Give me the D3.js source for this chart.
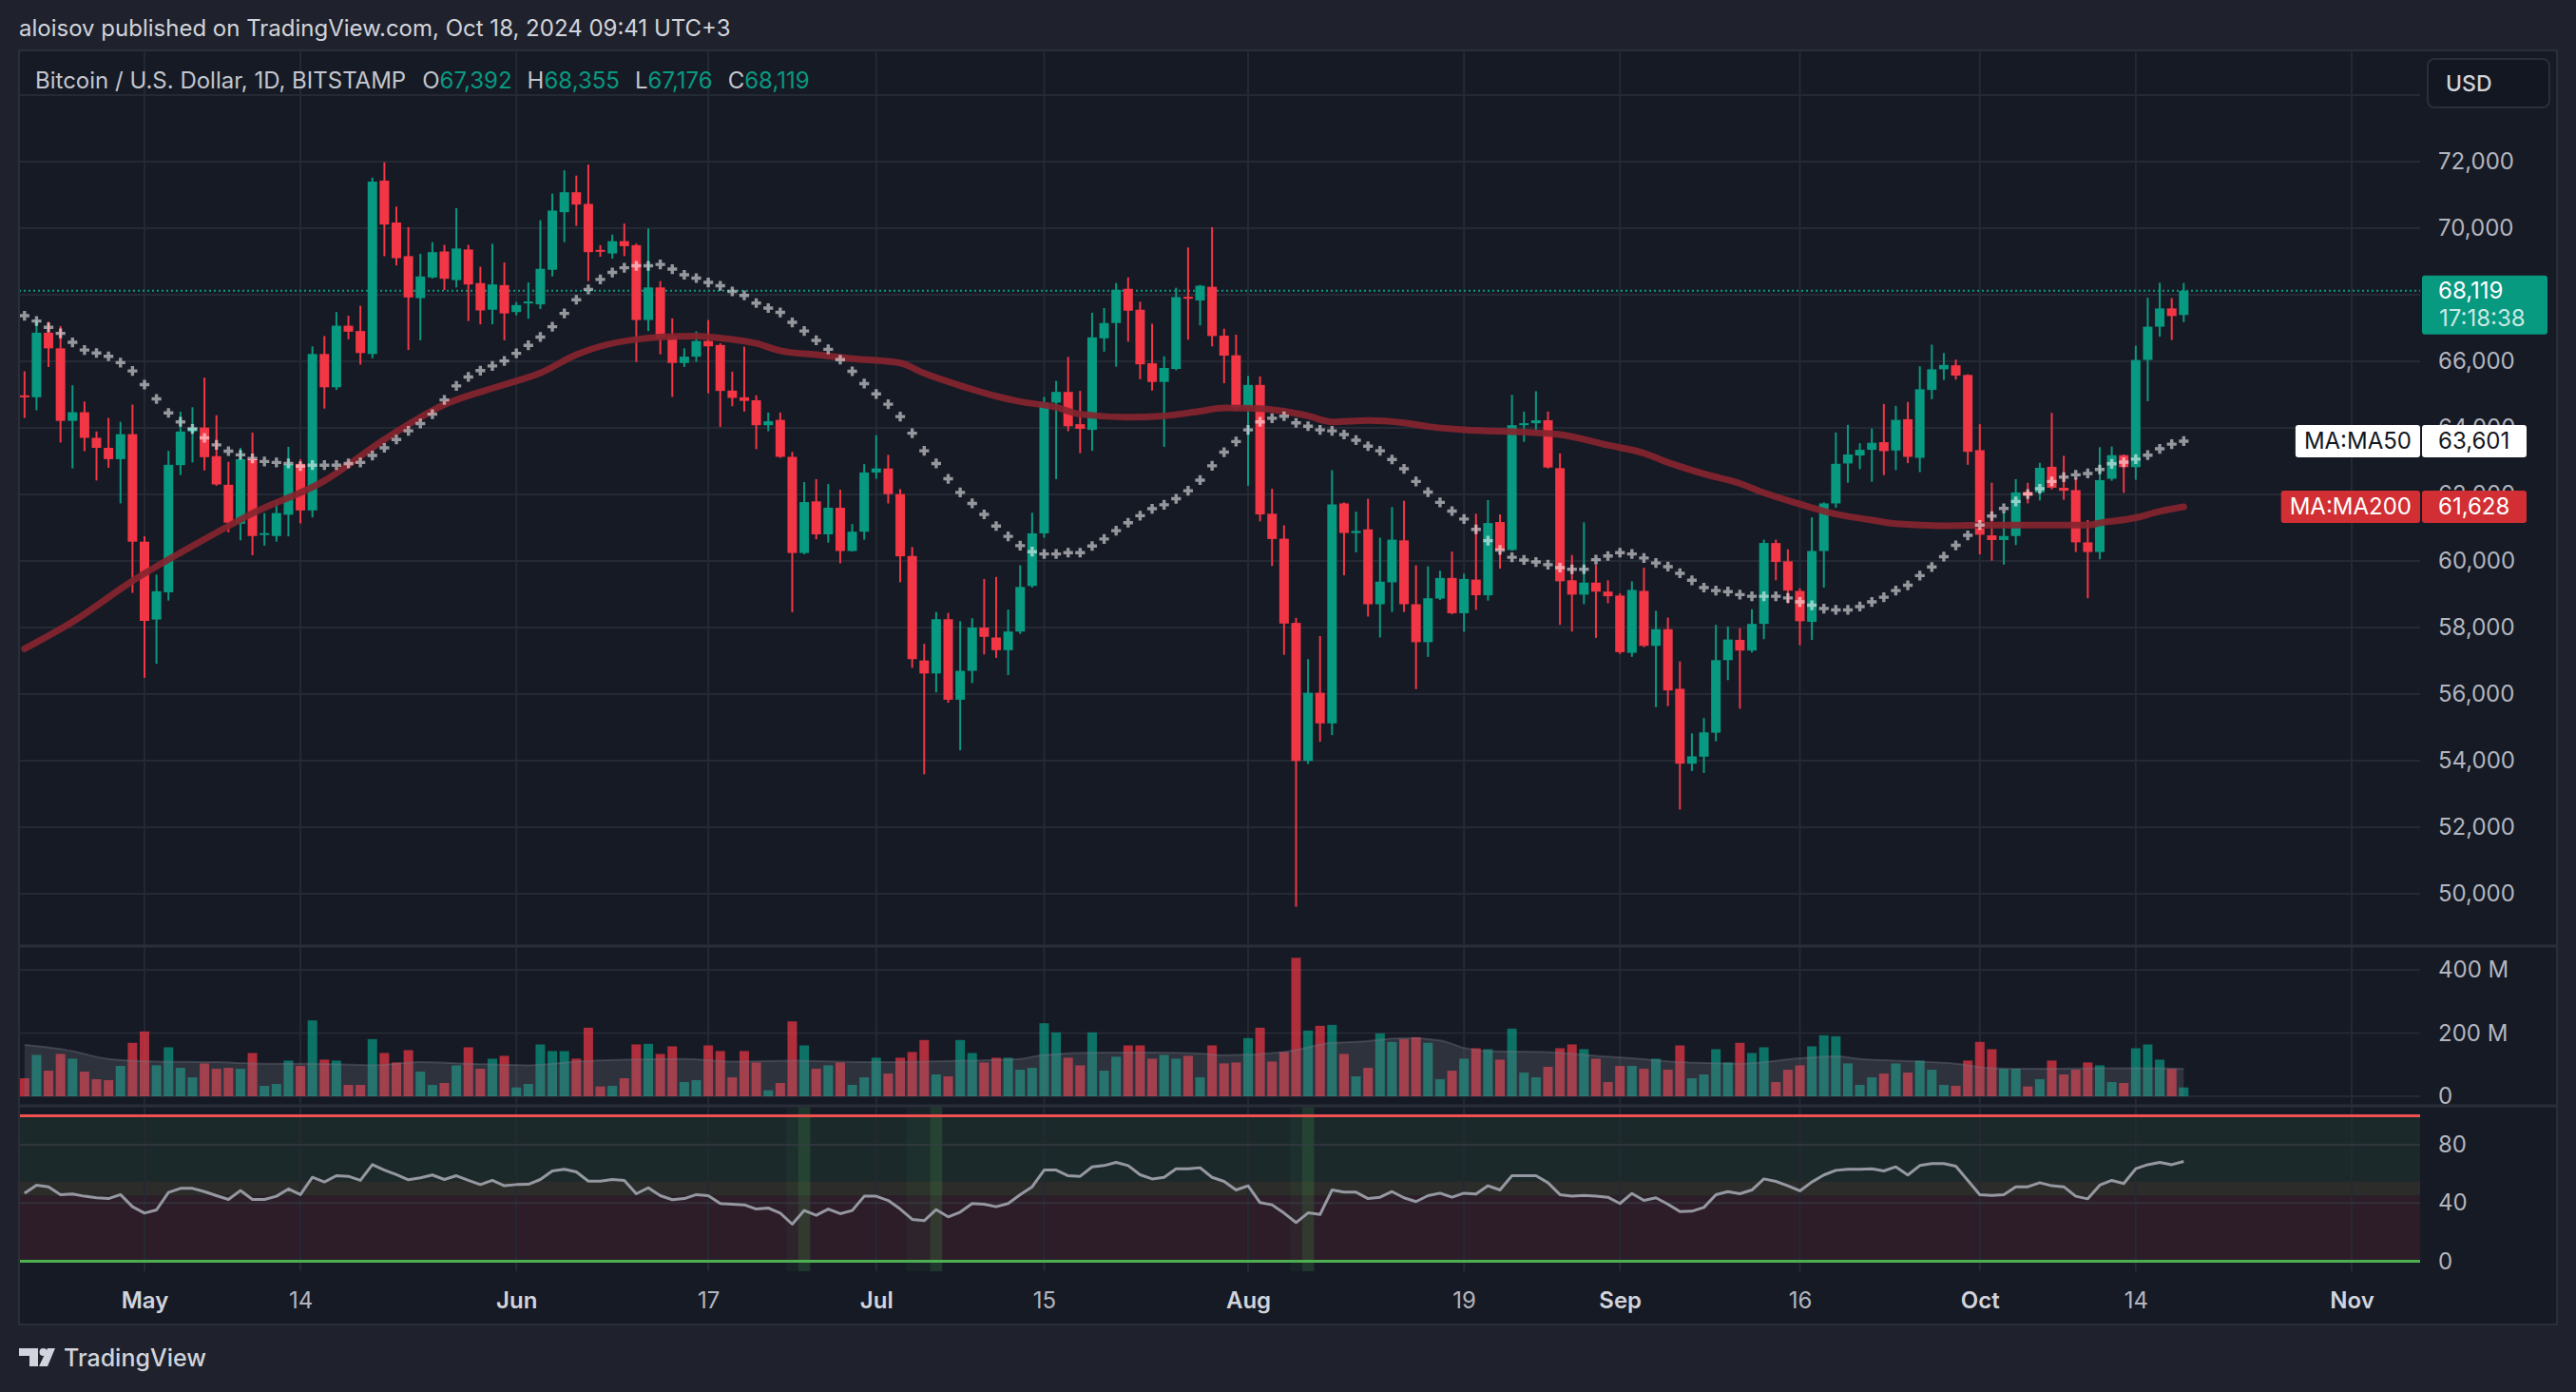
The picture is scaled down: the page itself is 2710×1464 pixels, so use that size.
<!DOCTYPE html>
<html>
<head>
<meta charset="utf-8">
<script src="https://cdn.jsdelivr.net/npm/d3@7"></script>
<style>
  body { margin: 0; background: #1f222c; }
  svg { display: block; font-family: Inter, Roboto, "Noto Sans", sans-serif; }
</style>
</head>
<body>
<svg id="chart" width="2710" height="1464"></svg>
<script>
// ---- data (daily candles, Apr 21 .. Oct 18 2024) ----
const firstDay = "2024-04-21";
const lastDay = "2024-10-18";

const openPx = [
  64950, 64920, 66860, 66390, 64210, 64470, 63700, 63400, 63060, 63810, // Apr
  60580, 58240, 59060, 62880, 63890, 64010, 63150, 62290, 61120, 63060, 60780, 60750, 61390, 62920, 61520, 66220,
  65220, 67070, 66910, 66220, 71430, 70170, 69160, 67900, 68520, 69300, 68440, 69360, 68350, 67550, 68290, // May
  67480, 67740, 67710, 68750, 70480, 71080, 70730, 69310, 69240, 69610, 69490, 67240, 68220, 66760, 65950,
  66140, 66610, 66490, 65120, 64920, 64830, 64080, 64240, 63130, 60240, 61790, 60800, 61600, 60300, 60880, // Jun
  62660, 62780, 62010, 60150, 57010, 56620, 58250, 55830, 56700, 58000, 57700, 57320, 57880, 59250, 60830, 64760,
  65080, 64110, 63940, 66690, 67150, 68180, 67550, 65940, 65380, 65770, 67930, 67830, 68240, 66770, 66180, // Jul
  64620, 65290, 61420, 60670, 58140, 53990, 56040, 55120, 61730, 60840, 60950, 58700, 59360, 60620, 58700, 57560,
  58870, 59490, 58430, 59440, 58970, 61170, 60330, 64080, 64140, 64230, 62790, 59420, 58990, 59350, 59080, // Aug
  58960, 57240, 59100, 57450, 57950, 56160, 53910, 54120, 54840, 57020, 57630, 57310, 58110, 60540, 59990,
  59100, 58170, 60300, 61730, 62930, 63170, 63340, 63570, 63320, 64260, 63100, 65140, 65760, 65880, 65590, // Sep
  63330, 60770, 60630, 60750, 62080, 62060, 62830, 62200, 62130, 60560, 60270, 62470, 63180, 62820, 66040,
  67040, 67590, 67392 // Oct
];
const highPx = [
  65700, 67230, 67190, 67060, 65280, 64790, 63890, 64300, 64180, 64700,
  60740, 59590, 63310, 64490, 64620, 65510, 64380, 62980, 63400, 63860, 61440, 61830, 63430, 63060, 66450, 66760,
  67480, 67370, 67670, 71520, 71980, 70650, 70030, 69230, 69580, 69500, 70600, 69500, 68840, 69530, 68970,
  67780, 68370, 70240, 71040, 71740, 71580, 71910, 69490, 69810, 70140, 69540, 69990, 68410, 67290, 66390,
  66900, 67240, 66540, 65690, 66440, 64980, 64460, 64460, 63280, 62370, 62460, 62310, 62140, 61110, 62910,
  63780, 63190, 62160, 60420, 57510, 58470, 58440, 58190, 58280, 59460, 59520, 58540, 59870, 61450, 64930, 65410,
  66130, 65110, 67460, 67600, 68350, 68520, 67790, 67130, 66150, 68210, 69420, 68300, 70030, 66980, 66800,
  65560, 65550, 62170, 61070, 58290, 57050, 57740, 62730, 61760, 61480, 61870, 60700, 61620, 61810, 59870, 59840,
  59710, 60280, 59620, 61420, 61830, 61400, 64990, 64490, 65100, 64490, 63230, 60180, 61160, 59880, 59420,
  59030, 59390, 59800, 58500, 58300, 56980, 54820, 55280, 58080, 58030, 57980, 58550, 60640, 60640, 60350,
  59180, 61310, 61760, 63860, 64090, 63540, 63980, 64720, 64660, 64780, 65850, 66500, 66250, 66050, 65610,
  64110, 62350, 61460, 62460, 62350, 62950, 64450, 63160, 62490, 61230, 63420, 63440, 63200, 66470, 67910,
  68360, 67900, 68355
];
const lowPx = [
  64300, 64530, 65830, 63560, 62780, 63300, 62420, 62800, 61730, 59040,
  56490, 56910, 58810, 62580, 62960, 62720, 62260, 60860, 60620, 60170, 60460, 60580, 60740, 61130, 61310, 64580,
  65140, 66660, 65900, 66090, 69160, 68880, 66340, 66630, 68490, 68140, 68220, 67210, 67110, 67110, 66630,
  67380, 67280, 67570, 68550, 69580, 70070, 68410, 69140, 69090, 69160, 65980, 66910, 66210, 64930, 65830,
  65980, 65040, 64030, 64650, 64490, 63360, 63900, 63100, 58460, 60200, 60650, 60550, 59930, 60280, 60640,
  62470, 61730, 59360, 56790, 53590, 56050, 55740, 54310, 56330, 57190, 57090, 56570, 57810, 59200, 60700, 62460,
  63900, 63240, 63310, 66290, 65840, 66590, 65460, 65120, 63430, 65730, 66650, 67080, 66450, 65340, 64530,
  62260, 61190, 59850, 57180, 49610, 53900, 54570, 54770, 59570, 60260, 58330, 57700, 58470, 58470, 56150, 57120,
  58830, 58400, 57870, 58530, 58810, 59770, 60300, 63580, 63820, 62780, 58080, 57880, 58700, 57690, 58730,
  57210, 57120, 57410, 55610, 55640, 52530, 53690, 53630, 54580, 56420, 55560, 57250, 57650, 59420, 58720,
  57470, 57630, 59200, 61600, 62350, 62760, 62380, 62580, 62730, 62940, 62670, 64860, 65440, 65450, 62890,
  60200, 60010, 59890, 60480, 61730, 61820, 62150, 61840, 60270, 58880, 60050, 62410, 62050, 62440, 64800,
  66740, 66640, 67176
];
const closePx = [
  64920, 66860, 66390, 64210, 64470, 63700, 63400, 63060, 63810, 60580,
  58200, 59090, 62890, 63890, 64000, 63120, 62300, 61150, 63060, 60750, 60820, 61440, 62900, 61520, 66220, 65220,
  67070, 66890, 66250, 71400, 70110, 69100, 67920, 68550, 69280, 68480, 69390, 68310, 67530, 68310, 67440,
  67690, 67760, 68780, 70530, 71080, 70710, 69280, 69290, 69610, 69460, 67240, 68220, 66700, 65950, 66140,
  66610, 66450, 65110, 64900, 64810, 64080, 64200, 63130, 60240, 61770, 60800, 61600, 60300, 60880, 62660,
  62780, 62010, 60140, 57050, 56620, 58250, 55830, 56700, 58000, 57720, 57320, 57880, 59220, 60830, 64760, 65080,
  64050, 63970, 66720, 67150, 68150, 67520, 65910, 65380, 65800, 67930, 67880, 68270, 66760, 66170, 64620,
  65290, 61400, 60660, 58120, 53990, 56040, 55120, 61700, 60840, 60900, 58700, 59380, 60640, 58700, 57560, 58880,
  59490, 58430, 59460, 58970, 61140, 60330, 64080, 64140, 64230, 62810, 59390, 58990, 59350, 59080, 58940,
  57260, 59130, 57450, 57950, 56110, 53910, 54130, 54850, 57020, 57640, 57310, 58110, 60540, 59970, 59110,
  58190, 60300, 61730, 62920, 63200, 63340, 63550, 63300, 64240, 63130, 65160, 65760, 65890, 65570, 63280,
  60790, 60630, 60750, 62060, 61960, 62800, 62200, 62110, 60560, 60270, 62430, 63180, 62820, 66040, 67040,
  67590, 67360, 68119
];
// volume, millions of USD
const volumeM = [
  57, 131, 81, 134, 119, 78, 54, 51, 96, 169,
  205, 98, 155, 90, 60, 104, 87, 90, 87, 137, 33, 39, 113, 96, 240, 116, 113, 36, 36, 181, 137, 107, 146, 78, 36, 42,
  98, 155, 87, 119, 128,
  28, 39, 164, 143, 143, 119, 217, 31, 33, 57, 164, 166, 134, 158, 45, 51, 161, 143, 60, 143, 107, 19, 42, 237, 161,
  87, 98, 107, 36, 60,
  122, 72, 122, 140, 178, 69, 63, 178, 137, 107, 122, 122, 84, 90, 231, 202, 122, 98, 202, 81, 125, 161, 161, 119,
  131, 119, 128, 60, 161, 104, 107,
  184, 217, 110, 140, 438, 208, 223, 226, 134, 63, 90, 199, 172, 181, 187, 169, 54, 81, 119, 152, 149, 116, 214, 75,
  60, 93, 152, 164, 149, 119, 45,
  96, 96, 87, 119, 84, 161, 57, 69, 149, 107, 169, 137, 155, 45, 84, 98, 158, 193, 190, 104, 36, 60, 72, 104, 75,
  113, 84, 36, 33, 113,
  172, 149, 87, 87, 31, 54, 113, 69, 84, 107, 98, 45, 42, 152, 164, 116, 87, 28
];
const rsiVals = [
  46.8, 52.3, 51.2, 45.8, 46.2, 44.7, 43.6, 43.1, 45.8, 37.5,
  33.1, 35.3, 47.3, 50.1, 50.1, 47.9, 45.1, 42.5, 48.6, 42.5, 42.5, 44.7, 49.7, 45.8, 57.7, 54.5, 58.8, 58.4, 55.6,
  66.4, 62.7, 59.5, 56.0, 57.3, 59.3, 56.2, 58.8, 55.6, 52.7, 55.6, 51.9,
  52.7, 52.9, 56.2, 62.1, 63.2, 61.4, 55.1, 55.1, 56.2, 55.6, 46.4, 50.5, 45.1, 42.3, 43.1, 45.8, 45.1, 39.7, 39.2,
  38.8, 35.9, 36.6, 33.1, 25.5, 34.9, 31.6, 35.9, 32.7, 34.9, 44.7,
  44.7, 41.8, 35.9, 28.8, 27.9, 35.5, 30.5, 33.8, 39.7, 39.2, 37.5, 39.7, 45.8, 51.2, 62.7, 62.7, 58.8, 58.4, 64.9,
  65.8, 68.0, 65.8, 59.5, 56.6, 57.7, 63.6, 63.6, 64.3, 57.7, 54.9, 49.0,
  51.9, 40.3, 38.8, 33.1, 26.6, 33.3, 32.2, 49.0, 47.5, 47.5, 43.1, 44.0, 47.9, 43.6, 41.0, 45.1, 46.8, 44.0, 46.8,
  46.2, 51.9, 49.0, 58.8, 58.8, 58.8, 54.0, 45.8, 44.7, 45.3, 44.7, 44.0,
  39.7, 46.6, 41.8, 43.6, 39.2, 34.2, 34.4, 37.0, 45.8, 47.9, 46.4, 49.0, 56.6, 54.9, 51.9, 48.4, 54.5, 59.3, 62.5,
  63.2, 63.2, 63.6, 62.1, 64.9, 59.3, 65.8, 67.1, 67.1, 65.4, 55.6,
  45.8, 45.3, 45.8, 51.2, 51.2, 54.0, 51.9, 51.2, 44.7, 42.9, 52.3, 55.6, 53.4, 63.6, 66.4, 68.0, 66.4, 68.6
];
// MA50 (drawn as crosses), one value per day
const ma50Vals = [
  67370, 67210, 67020, 66840, 66570, 66340, 66250, 66150, 65960, 65710,
  65300, 64870, 64450, 64180, 63970, 63700, 63490, 63300, 63190, 63080, 62990, 62960, 62930, 62850, 62880, 62880,
  62880, 62930, 62960, 63170, 63400, 63650, 63910, 64130, 64410, 64840, 65260, 65530, 65720, 65860, 66010,
  66240, 66480, 66730, 67040, 67440, 67850, 68160, 68460, 68670, 68810, 68870, 68870, 68910, 68770, 68600,
  68500, 68370, 68270, 68100, 67980, 67750, 67600, 67470, 67170, 66910, 66630, 66360, 66050, 65700, 65330,
  65020, 64710, 64340, 63840, 63310, 62930, 62470, 62060, 61730, 61400, 61050, 60740, 60460, 60280, 60210, 60210,
  60250, 60250, 60450, 60660, 60910, 61150, 61360, 61570, 61690, 61870, 62110, 62430, 62860, 63270, 63590,
  63940, 64180, 64290, 64350, 64150, 64050, 63940, 63910, 63800, 63630, 63450, 63310, 63050, 62770, 62390, 62070,
  61760, 61500, 61260, 60950, 60610, 60330, 60110, 60030, 59970, 59890, 59800, 59750, 59750, 60040, 60150,
  60250, 60210, 60090, 59940, 59830, 59630, 59420, 59200, 59110, 59080, 58990, 58940, 58940, 58940, 58890,
  58770, 58670, 58570, 58530, 58530, 58630, 58770, 58910, 59110, 59270, 59560, 59820, 60130, 60470, 60770,
  61080, 61350, 61580, 61790, 62010, 62170, 62390, 62520, 62590, 62630, 62750, 62920, 62970, 63060, 63180,
  63370, 63510, 63601
];
// MA200 line, read at sample dates
const ma200Dates = [
  "2024-04-21", "2024-04-25", "2024-04-30", "2024-05-05", "2024-05-10", "2024-05-16", "2024-05-21", "2024-05-26",
  "2024-05-31", "2024-06-03", "2024-06-06", "2024-06-08", "2024-06-11", "2024-06-13", "2024-06-16", "2024-06-18",
  "2024-06-21", "2024-06-23", "2024-06-26", "2024-06-29", "2024-07-03", "2024-07-05", "2024-07-08", "2024-07-11",
  "2024-07-13", "2024-07-16", "2024-07-18", "2024-07-22", "2024-07-25", "2024-07-28", "2024-07-30", "2024-08-02",
  "2024-08-04", "2024-08-06", "2024-08-08", "2024-08-11", "2024-08-14", "2024-08-16", "2024-08-19", "2024-08-24",
  "2024-08-27", "2024-08-31", "2024-09-03", "2024-09-05", "2024-09-08", "2024-09-11", "2024-09-13", "2024-09-16",
  "2024-09-19", "2024-09-22", "2024-09-24", "2024-09-28", "2024-10-02", "2024-10-10", "2024-10-11", "2024-10-14",
  "2024-10-16", "2024-10-18"
];
const ma200Vals = [
  57360, 58170, 59400, 60450, 61430, 62410, 63650, 64700,
  65300, 65650, 66200, 66450, 66660, 66730, 66760, 66700,
  66540, 66320, 66200, 66080, 65950, 65640, 65270, 64950,
  64790, 64620, 64410, 64320, 64360, 64500, 64600, 64580,
  64500, 64360, 64180, 64220, 64150, 64040, 63940, 63870,
  63800, 63480, 63240, 62960, 62620, 62330, 62050, 61710,
  61410, 61230, 61120, 61060, 61080, 61080, 61140, 61300,
  61490, 61628
];
// volume moving average (grey area), millions
const volMaDates = [
  "2024-04-21", "2024-04-25", "2024-04-28", "2024-05-02", "2024-05-07", "2024-05-11", "2024-05-15", "2024-05-20",
  "2024-05-24", "2024-05-28", "2024-06-02", "2024-06-06", "2024-06-10", "2024-06-15", "2024-06-19", "2024-06-24",
  "2024-06-30", "2024-07-05", "2024-07-09", "2024-07-13", "2024-07-15", "2024-07-20", "2024-07-24", "2024-07-28",
  "2024-07-30", "2024-08-04", "2024-08-08", "2024-08-10", "2024-08-14", "2024-08-17", "2024-08-19", "2024-08-21",
  "2024-08-26", "2024-08-30", "2024-09-02", "2024-09-06", "2024-09-11", "2024-09-16", "2024-09-19", "2024-09-21",
  "2024-09-26", "2024-09-29", "2024-10-02", "2024-10-06", "2024-10-11", "2024-10-16", "2024-10-18"
];
const volMaVals = [
  163, 143, 118, 110, 108, 103, 103, 98,
  108, 103, 98, 110, 116, 118, 110, 113,
  108, 110, 113, 118, 131, 138, 138, 135,
  130, 140, 169, 172, 184, 177, 153, 143,
  140, 128, 120, 108, 103, 120, 126, 118,
  110, 103, 89, 87, 89, 89, 87
];
// RSI pane highlight columns
const rsiDimDays = ["2024-06-24", "2024-07-04", "2024-07-05", "2024-08-05"];
const rsiBrightDays = ["2024-06-25", "2024-07-06", "2024-08-06"];

// 68,000 sits under the last-price tag in the original, so it has no label
const priceTicks = [50000, 52000, 54000, 56000, 58000, 60000, 62000, 64000, 66000, 70000, 72000];
const priceGrid = [50000, 52000, 54000, 56000, 58000, 60000, 62000, 64000, 66000, 68000, 70000, 72000, 74000];
const volTicks = [0, 200e6, 400e6];
const rsiTicks = [0, 40, 80];
const tickDates = ["2024-05-01", "2024-05-14", "2024-06-01", "2024-06-17", "2024-07-01", "2024-07-15", "2024-08-01",
  "2024-08-19", "2024-09-01", "2024-09-16", "2024-10-01", "2024-10-14", "2024-11-01"];
const tickLabels = ["May", "14", "Jun", "17", "Jul", "15", "Aug", "19", "Sep", "16", "Oct", "14", "Nov"];

const lastPrice = 68119;
const ma50Last = 63601, ma200Last = 61628;

// ---- layout ----
const parse = d3.utcParse("%Y-%m-%d");
const pLeft = 20, pRight = 2690, plotRight = 2546, pTop = 53, pBottom = 1393;
const mainBottom = 995, volBottom = 1163, rsiBottom = 1337;
const axisTextX = 2565;
const axisFont = 24;
const green = "#089981", red = "#f23645";
const gridColor = "#252934", lineColor = "#2a2e39";

const svg = d3.select("#chart");

const days = d3.utcDay.range(parse(firstDay), d3.utcDay.offset(parse(lastDay), 1));
const bars = days.map((d, i) => ({
  date: d, o: openPx[i], h: highPx[i], l: lowPx[i], c: closePx[i],
  v: volumeM[i] * 1e6, rsi: rsiVals[i], ma50: ma50Vals[i]
}));

const x = d3.scaleUtc()
  .domain([parse("2024-04-21"), parse("2024-11-01")])
  .range([25.8, 2474]);
const dayW = x(parse("2024-04-22")) - x(parse("2024-04-21"));

const yPrice = d3.scaleLinear().domain([50000, 70000]).range([940, 240]);
const yVol = d3.scaleLinear().domain([0, 400e6]).range([1153, 1020]);
const yRsi = d3.scaleLinear().domain([0, 100]).range([1326.5, 1173.5]);

// backgrounds
svg.append("rect").attr("width", 2710).attr("height", 1464).attr("fill", "#1f222c");
svg.append("rect")
  .attr("x", pLeft).attr("y", pTop)
  .attr("width", pRight - pLeft).attr("height", pBottom - pTop)
  .attr("fill", "#161a25").attr("stroke", lineColor).attr("stroke-width", 2);

svg.append("clipPath").attr("id", "plotClip")
  .append("rect").attr("x", pLeft + 1).attr("y", pTop).attr("width", plotRight - pLeft - 1).attr("height", rsiBottom - pTop);

const plot = svg.append("g").attr("clip-path", "url(#plotClip)");

// RSI background bands
plot.append("rect").attr("x", pLeft).attr("width", plotRight - pLeft)
  .attr("y", yRsi(100)).attr("height", yRsi(55) - yRsi(100)).attr("fill", "#1c292b");
plot.append("rect").attr("x", pLeft).attr("width", plotRight - pLeft)
  .attr("y", yRsi(55)).attr("height", yRsi(45) - yRsi(55)).attr("fill", "#2c2d2a");
plot.append("rect").attr("x", pLeft).attr("width", plotRight - pLeft)
  .attr("y", yRsi(45)).attr("height", yRsi(0) - yRsi(45)).attr("fill", "#2c1d29");

plot.selectAll(".dimcol").data(rsiDimDays).enter().append("rect")
  .attr("x", d => x(parse(d)) - dayW / 2).attr("width", dayW)
  .attr("y", volBottom).attr("height", rsiBottom - volBottom)
  .attr("fill", "#4caf50").attr("fill-opacity", 0.06);
plot.selectAll(".brightcol").data(rsiBrightDays).enter().append("rect")
  .attr("x", d => x(parse(d)) - dayW / 2).attr("width", dayW)
  .attr("y", volBottom).attr("height", rsiBottom - volBottom)
  .attr("fill", "#4caf50").attr("fill-opacity", 0.2);

// grid
plot.selectAll(".vgrid").data(tickDates).enter().append("line")
  .attr("x1", d => x(parse(d))).attr("x2", d => x(parse(d)))
  .attr("y1", pTop).attr("y2", rsiBottom)
  .attr("stroke", gridColor).attr("stroke-width", 2);
plot.selectAll(".pgrid").data(priceGrid).enter().append("line")
  .attr("x1", pLeft).attr("x2", plotRight)
  .attr("y1", d => yPrice(d)).attr("y2", d => yPrice(d))
  .attr("stroke", gridColor).attr("stroke-width", 2);
plot.selectAll(".vlgrid").data(volTicks).enter().append("line")
  .attr("x1", pLeft).attr("x2", plotRight)
  .attr("y1", d => yVol(d)).attr("y2", d => yVol(d))
  .attr("stroke", gridColor).attr("stroke-width", 2);
plot.selectAll(".rgrid").data([40, 80]).enter().append("line")
  .attr("x1", pLeft).attr("x2", plotRight)
  .attr("y1", d => yRsi(d)).attr("y2", d => yRsi(d))
  .attr("stroke", "#3a3d48").attr("stroke-opacity", 0.6).attr("stroke-width", 2);

// pane separators
[mainBottom, volBottom].forEach(yy => {
  svg.append("line").attr("x1", pLeft).attr("x2", pRight).attr("y1", yy).attr("y2", yy)
    .attr("stroke", lineColor).attr("stroke-width", 3);
});

// RSI level lines
plot.append("line").attr("x1", pLeft).attr("x2", plotRight)
  .attr("y1", yRsi(100)).attr("y2", yRsi(100)).attr("stroke", "#f25050").attr("stroke-width", 3);
plot.append("line").attr("x1", pLeft).attr("x2", plotRight)
  .attr("y1", yRsi(0)).attr("y2", yRsi(0)).attr("stroke", "#4caf50").attr("stroke-width", 3);

// last price dotted line
plot.append("line").attr("x1", pLeft).attr("x2", plotRight)
  .attr("y1", yPrice(lastPrice)).attr("y2", yPrice(lastPrice))
  .attr("stroke", green).attr("stroke-width", 2).attr("stroke-dasharray", "2,3");

// volume bars
const barW = 10;
plot.selectAll(".vol").data(bars).enter().append("rect")
  .attr("x", d => x(d.date) - barW / 2).attr("width", barW)
  .attr("y", d => yVol(d.v)).attr("height", d => yVol(0) - yVol(d.v))
  .attr("fill", d => d.c >= d.o ? green : red).attr("fill-opacity", 0.7);

// volume MA area on top of bars
const volArea = d3.area()
  .x((d, i) => x(parse(volMaDates[i])))
  .y0(yVol(0)).y1(d => yVol(d * 1e6))
  .curve(d3.curveMonotoneX);
plot.append("path").datum(volMaVals).attr("d", volArea)
  .attr("fill", "#787b86").attr("fill-opacity", 0.25);
plot.append("path").datum(volMaVals)
  .attr("d", d3.line().x((d, i) => x(parse(volMaDates[i]))).y(d => yVol(d * 1e6)).curve(d3.curveMonotoneX))
  .attr("fill", "none").attr("stroke", "#787b86").attr("stroke-opacity", 0.35).attr("stroke-width", 2);

// candles
const bodyW = 10;
plot.selectAll(".wick").data(bars).enter().append("rect")
  .attr("x", d => x(d.date) - 1).attr("width", 2)
  .attr("y", d => yPrice(d.h)).attr("height", d => yPrice(d.l) - yPrice(d.h))
  .attr("fill", d => d.c >= d.o ? green : red);
plot.selectAll(".body").data(bars).enter().append("rect")
  .attr("x", d => x(d.date) - bodyW / 2).attr("width", bodyW)
  .attr("y", d => Math.min(yPrice(Math.max(d.o, d.c)), yPrice(Math.min(d.o, d.c)) - 2))
  .attr("height", d => Math.max(2, yPrice(Math.min(d.o, d.c)) - yPrice(Math.max(d.o, d.c))))
  .attr("fill", d => d.c >= d.o ? green : red);

// MA200 line
const ma200Line = d3.line()
  .x((d, i) => x(parse(ma200Dates[i])))
  .y(d => yPrice(d))
  .curve(d3.curveMonotoneX);
plot.append("path").datum(ma200Vals).attr("d", ma200Line)
  .attr("fill", "none").attr("stroke", "#85242e").attr("stroke-opacity", 0.92)
  .attr("stroke-width", 7).attr("stroke-linecap", "round");

// MA50 crosses
const cross = d3.symbol().type(d3.symbolCross).size(58);
plot.selectAll(".ma50").data(bars).enter().append("path")
  .attr("d", cross)
  .attr("transform", d => `translate(${x(d.date)},${yPrice(d.ma50)})`)
  .attr("fill", "#ffffff").attr("fill-opacity", 0.55);

// RSI line
plot.append("path").datum(bars)
  .attr("d", d3.line().x(d => x(d.date)).y(d => yRsi(d.rsi)))
  .attr("fill", "none").attr("stroke", "#9598a1").attr("stroke-width", 3).attr("stroke-linejoin", "round");

// ---- axes ----
function styleAxis(g, color) {
  g.select(".domain").remove();
  g.attr("font-family", null).attr("font-size", axisFont).attr("color", color);
}

svg.append("g").attr("transform", `translate(${axisTextX},0)`)
  .call(d3.axisRight(yPrice).tickValues(priceTicks).tickSize(0).tickPadding(0).tickFormat(d3.format(",")))
  .call(g => styleAxis(g, "#b2b5be"));

svg.append("g").attr("transform", `translate(${axisTextX},0)`)
  .call(d3.axisRight(yVol).tickValues(volTicks).tickSize(0).tickPadding(0)
    .tickFormat(d => d === 0 ? "0" : (d / 1e6) + " M"))
  .call(g => styleAxis(g, "#b2b5be"));

svg.append("g").attr("transform", `translate(${axisTextX},0)`)
  .call(d3.axisRight(yRsi).tickValues(rsiTicks).tickSize(0).tickPadding(0))
  .call(g => styleAxis(g, "#b2b5be"));

const xAxisG = svg.append("g").attr("transform", `translate(0,${1359})`)
  .call(d3.axisBottom(x).tickValues(tickDates.map(parse)).tickSize(0).tickPadding(0)
    .tickFormat((d, i) => tickLabels[i]))
  .call(g => styleAxis(g, "#b2b5be"));
xAxisG.selectAll("text")
  .attr("font-weight", (d, i) => isNaN(+tickLabels[i]) ? 600 : 400)
  .attr("fill", (d, i) => isNaN(+tickLabels[i]) ? "#d1d4dc" : "#b2b5be");

// ---- price-scale labels ----
const pyLast = yPrice(lastPrice);
svg.append("rect").attr("x", 2548).attr("y", pyLast - 16).attr("width", 132).attr("height", 62)
  .attr("rx", 3).attr("fill", green);
svg.append("text").attr("x", axisTextX).attr("y", pyLast + 8).attr("font-size", axisFont).attr("fill", "#ffffff")
  .text(d3.format(",")(lastPrice));
svg.append("text").attr("x", axisTextX + 1).attr("y", pyLast + 37).attr("font-size", axisFont)
  .attr("fill", "#ffffff").attr("fill-opacity", 0.8).text("17:18:38");

function maTag(name, value, bg, fg) {
  const cy = yPrice(value);
  const g = svg.append("g");
  const nameBox = g.append("rect").attr("y", cy - 17).attr("height", 34).attr("rx", 3).attr("fill", bg);
  const t = g.append("text").attr("y", cy + 8).attr("font-size", axisFont).attr("fill", fg).text(name);
  const w = t.node().getComputedTextLength();
  nameBox.attr("x", plotRight - w - 18).attr("width", w + 18);
  t.attr("x", plotRight - w - 9);
  g.append("rect").attr("x", 2548).attr("y", cy - 17).attr("width", 110).attr("height", 34)
    .attr("rx", 3).attr("fill", bg);
  g.append("text").attr("x", axisTextX).attr("y", cy + 8).attr("font-size", axisFont).attr("fill", fg)
    .text(d3.format(",")(value));
}
maTag("MA:MA50", ma50Last, "#ffffff", "#131722");
maTag("MA:MA200", ma200Last, "#d12f33", "#ffffff");

// USD button
svg.append("rect").attr("x", 2554).attr("y", 62).attr("width", 128).attr("height", 51).attr("rx", 7)
  .attr("fill", "#131722").attr("stroke", lineColor).attr("stroke-width", 2);
svg.append("text").attr("x", 2573).attr("y", 96).attr("font-size", 23).attr("font-weight", 500)
  .attr("fill", "#d1d4dc").text("USD");

// ---- header, legend, footer ----
svg.append("text").attr("x", 20).attr("y", 38).attr("font-size", 24).attr("fill", "#d1d4dc")
  .text("aloisov published on TradingView.com, Oct 18, 2024 09:41 UTC+3");

const legend = svg.append("text").attr("x", 37).attr("y", 93).attr("font-size", 24).attr("fill", "#c3c6ce");
legend.append("tspan").text("Bitcoin / U.S. Dollar, 1D, BITSTAMP");
const ohlc = [["O", openPx[openPx.length - 1]], ["H", highPx[highPx.length - 1]],
  ["L", lowPx[lowPx.length - 1]], ["C", closePx[closePx.length - 1]]];
ohlc.forEach(([k, v], i) => {
  legend.append("tspan").attr("dx", i === 0 ? 17 : 16).text(k);
  legend.append("tspan").attr("fill", green).text(d3.format(",")(v));
});

// TradingView logo
const logo = svg.append("g").attr("fill", "#d1d4dc");
logo.append("path").attr("d", "M20,1418 H40 V1437 H31 V1426 H20 Z");
logo.append("circle").attr("cx", 45.5).attr("cy", 1422).attr("r", 4);
logo.append("path").attr("d", "M50,1418 H58 L50,1437 H41 Z");
logo.append("text").attr("x", 67).attr("y", 1437).attr("font-size", 25).attr("font-weight", 500)
  .text("TradingView");
</script>
</body>
</html>
